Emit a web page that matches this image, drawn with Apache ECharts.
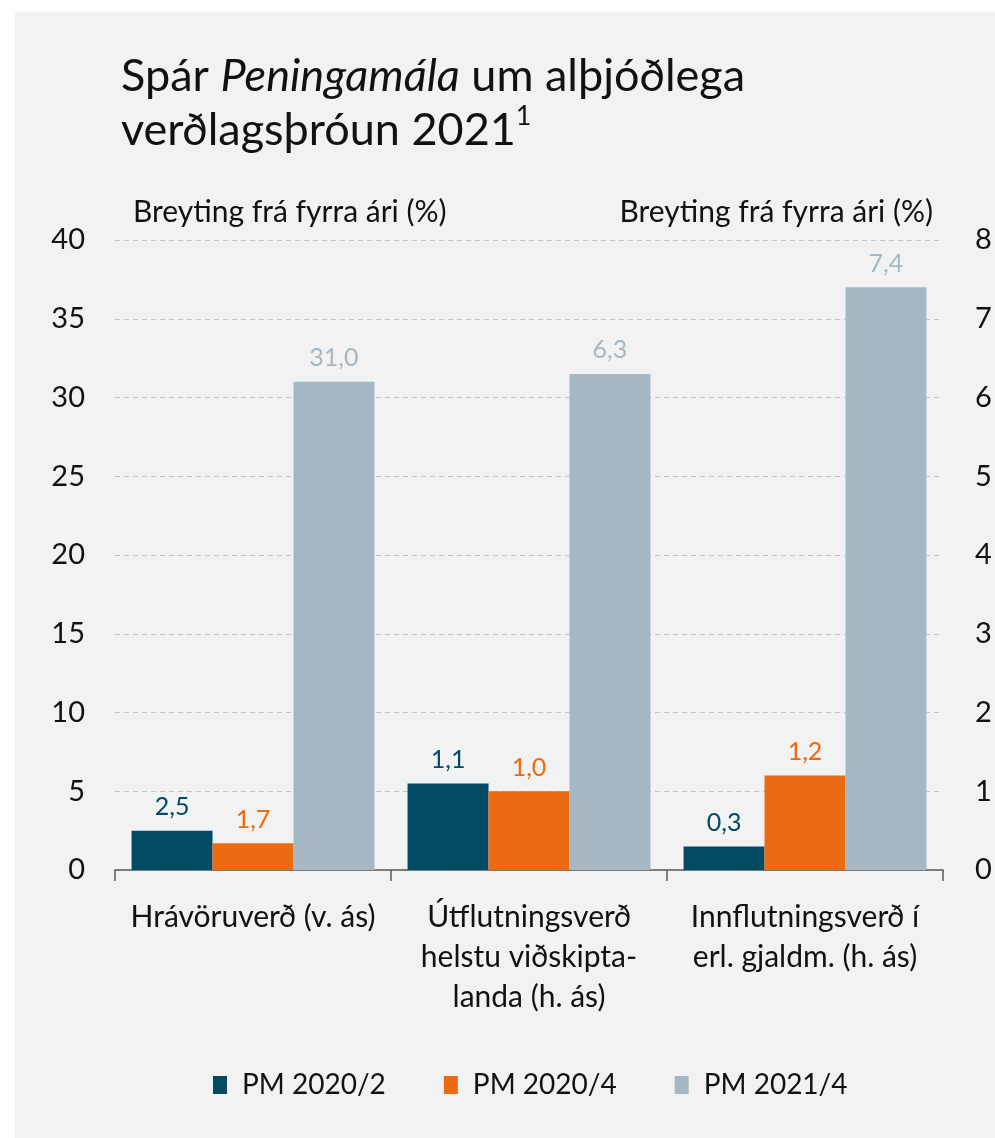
<!DOCTYPE html>
<html>
<head>
<meta charset="utf-8">
<script src="https://cdn.jsdelivr.net/npm/echarts@6/dist/echarts.min.js"></script>
<style>
  html, body { margin: 0; padding: 0; background: #ffffff; }
  #wrap { position: relative; width: 995px; height: 1138px; }
  #panel { position: absolute; left: 15px; top: 12px; right: 0; bottom: 0; background: #f2f2f2; }
  #chart { position: absolute; left: 0; top: 0; width: 995px; height: 1138px; }
</style>
</head>
<body>
<div id="wrap">
  <div id="panel"></div>
  <div id="chart"></div>
</div>
<script>
// Categories and which value axis each one is read against
const categories = [
  'Hrávöruverð (v. ás)',
  'Útflutningsverð\nhelstu viðskipta-\nlanda (h. ás)',
  'Innflutningsverð í\nerl. gjaldm. (h. ás)'
];
const axisSide = ['left', 'right', 'right'];

// Forecast values, % change from previous year
const pm2020_2 = [2.5, 1.1, 0.3];
const pm2020_4 = [1.7, 1.0, 1.2];
const pm2021_4 = [31.0, 6.3, 7.4];

const seriesNames = ['PM 2020/2', 'PM 2020/4', 'PM 2021/4'];
const seriesValues = [pm2020_2, pm2020_4, pm2021_4];
const seriesColors = ['#004a63', '#ec6a12', '#a5b8c4'];

const axisName = 'Breyting frá fyrra ári (%)';
const FONT = 'Lato, "Open Sans", sans-serif';

function pick(values, side) {
  return values.map((v, i) => (axisSide[i] === side ? v : null));
}

function makeSeries(side, idx) {
  return seriesNames.map((name, k) => ({
    name: name,
    type: 'bar',
    xAxisIndex: idx,
    yAxisIndex: idx,
    data: pick(seriesValues[k], side),
    barGap: 0,
    barCategoryGap: '12%',
    itemStyle: { color: seriesColors[k] },
    label: {
      show: true,
      position: 'top',
      distance: 11,
      fontFamily: FONT,
      fontSize: 25,
      color: seriesColors[k],
      formatter: p => (p.value == null ? '' : p.value.toFixed(1).replace('.', ','))
    }
  }));
}

const chart = echarts.init(document.getElementById('chart'), null, { renderer: 'canvas' });

chart.setOption({
  backgroundColor: 'transparent',
  animation: false,
  textStyle: { fontFamily: FONT },
  title: {
    left: 116,
    top: 44,
    text: 'Spár {i|Peningamála} um alþjóðlega\nverðlagsþróun 2021{sup|1}',
    textStyle: {
      fontFamily: FONT,
      fontSize: 45,
      fontWeight: 'normal',
      color: '#111',
      lineHeight: 54,
      rich: {
        i: { fontFamily: FONT, fontSize: 45, fontStyle: 'italic', color: '#111', lineHeight: 54 },
        sup: { fontFamily: FONT, fontSize: 27, color: '#111', verticalAlign: 'top', lineHeight: 54, padding: [0, 0, 24, 0] }
      }
    }
  },
  legend: {
    data: seriesNames,
    left: 208,
    top: 1066,
    itemWidth: 14,
    itemHeight: 18,
    itemGap: 58,
    icon: 'rect',
    textStyle: { fontFamily: FONT, fontSize: 28, color: '#111', padding: [0, 0, 0, 10] }
  },
  grid: { left: 115, right: 52, top: 240, bottom: 268, containLabel: false },
  xAxis: [
    {
      type: 'category',
      data: categories,
      position: 'bottom',
      axisLine: { show: true, lineStyle: { color: '#595959', width: 1.5 } },
      axisTick: { show: true, length: 11, lineStyle: { color: '#595959', width: 1.5 } },
      axisLabel: {
        interval: 0,
        margin: 27,
        fontFamily: FONT,
        fontSize: 30,
        lineHeight: 40,
        color: '#111'
      }
    },
    {
      type: 'category',
      data: categories,
      position: 'top',
      show: false
    }
  ],
  yAxis: [
    {
      type: 'value',
      min: 0,
      max: 40,
      interval: 5,
      position: 'left',
      name: axisName,
      nameLocation: 'end',
      nameGap: 28,
      nameTextStyle: { fontFamily: FONT, fontSize: 30, color: '#111', align: 'left', verticalAlign: 'middle', padding: [0, 0, 0, 18] },
      axisLine: { show: false },
      axisTick: { show: false },
      axisLabel: { margin: 30, fontFamily: FONT, fontSize: 29, color: '#111' },
      splitLine: { show: true, lineStyle: { color: '#c4c4c4', type: [5, 4], width: 1 } }
    },
    {
      type: 'value',
      min: 0,
      max: 8,
      interval: 1,
      position: 'right',
      name: axisName,
      nameLocation: 'end',
      nameGap: 28,
      nameTextStyle: { fontFamily: FONT, fontSize: 30, color: '#111', align: 'right', verticalAlign: 'middle', padding: [0, 10, 0, 0] },
      axisLine: { show: false },
      axisTick: { show: false },
      axisLabel: { margin: 32, fontFamily: FONT, fontSize: 29, color: '#111' },
      splitLine: { show: false }
    }
  ],
  series: makeSeries('left', 0).concat(makeSeries('right', 1))
});
</script>
</body>
</html>
